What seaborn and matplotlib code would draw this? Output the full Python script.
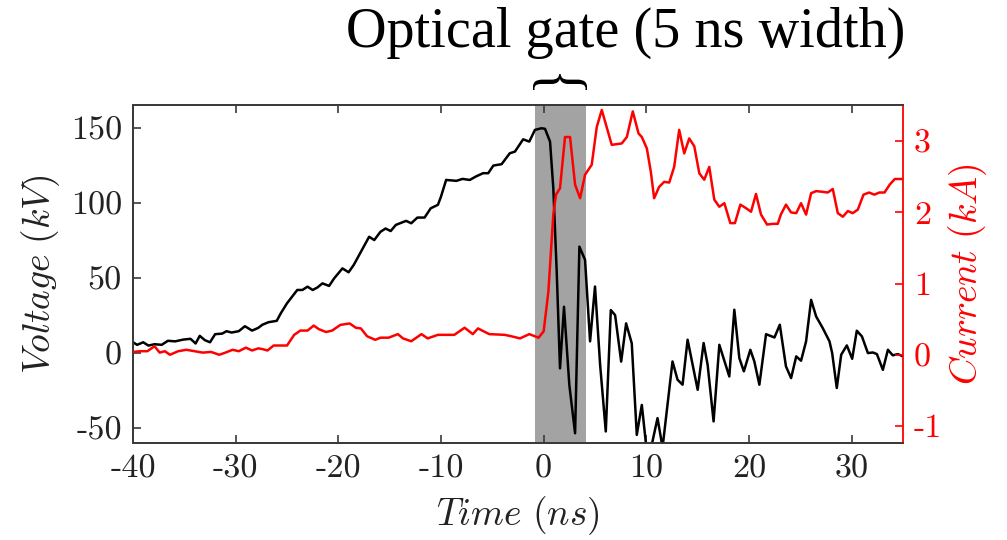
import numpy as np
import pandas as pd
import seaborn as sns
import matplotlib
matplotlib.use("Agg")
import matplotlib.pyplot as plt
import matplotlib.transforms as mtransforms
from matplotlib.textpath import TextPath
from matplotlib.patches import PathPatch
from matplotlib.font_manager import FontProperties

# ---- voltage trace (kV) ----
t_voltage = [-40.0, -39.6, -39.0, -38.5, -37.9, -37.2, -36.6, -35.9, -35.1, -34.4,
             -33.9, -33.5, -33.0, -32.5, -32.0, -31.3, -30.9, -30.4, -29.7, -29.1,
             -28.4, -27.8, -27.4, -26.8, -26.0, -25.6, -25.0, -24.0, -23.5, -23.0,
             -22.5, -22.05, -21.55, -20.9, -20.4, -19.6, -19.0, -18.5, -17.8, -17.0,
             -16.5, -15.9, -15.4, -14.9, -14.4, -13.4, -12.9, -12.3, -11.6, -11.0,
             -10.3, -10.0, -9.5, -8.5, -7.9, -7.2, -6.6, -5.9, -5.4, -4.9,
             -4.1, -3.3, -2.8, -2.0, -1.4, -0.85, -0.2, 0.13, 0.62, 0.94,
             1.27, 1.59, 1.98, 2.5, 3.06, 3.48, 4.03, 4.52, 5.0, 5.5,
             6.05, 6.54, 6.96, 7.55, 8.03, 8.58, 9.07, 9.56, 10.05, 10.44,
             11.09, 11.58, 12.55, 13.04, 13.53, 14.02, 15.0, 15.58, 15.97, 16.55,
             17.11, 18.08, 18.57, 19.06, 19.5, 20.13, 20.52, 21.01, 21.66, 22.48,
             23.0, 23.6, 24.1, 24.6, 25.07, 25.56, 26.05, 26.54, 27.18, 27.84,
             28.1, 28.55, 28.98, 29.53, 30.05, 30.5, 31.0, 31.58, 32.07, 32.46,
             33.04, 33.53, 34.0, 34.5, 35.0]
voltage_kv = [7.2, 5.5, 7.2, 5.0, 5.9, 5.5, 8.2, 7.8, 9.0, 9.5,
              6.4, 11.5, 8.6, 7.2, 12.6, 13.0, 14.6, 13.7, 14.6, 17.9,
              15.0, 16.8, 18.9, 20.6, 21.5, 26.6, 33.2, 42.1, 42.1, 44.3,
              42.1, 43.7, 46.5, 44.8, 49.9, 56.5, 53.9, 58.8, 67.6, 77.6,
              75.4, 80.9, 83.1, 81.4, 85.5, 88.2, 86.6, 90.4, 90.4, 96.6,
              98.9, 104.4, 115.5, 114.9, 116.2, 115.5, 117.8, 120.0, 120.0, 125.1,
              126.0, 133.3, 134.4, 142.6, 141.1, 148.9, 150.0, 149.6, 141.1, 110.0,
              54.4, -10.2, 30.9, -21.3, -53.5, 71.0, 62.2, 7.8, 44.4, -7.9,
              -52.3, 28.7, 25.3, -5.7, 19.8, 6.5, -54.6, -34.6, -66.0, -64.0,
              -43.4, -63.0, -5.6, -17.8, -21.1, 8.9, -24.5, 6.7, -7.8, -45.6,
              5.5, -15.6, 28.9, -3.4, -12.2, 2.2, -5.6, -21.1, 12.6, 10.4,
              18.9, -8.9, -16.7, -2.2, -5.1, 7.8, 35.5, 24.4, 16.7, 7.8,
              0.0, -23.3, -1.1, 5.1, -3.8, 14.9, 11.1, 0.0, 0.4, -0.7,
              -11.2, 2.2, -1.5, -0.7, -2.2]

# ---- current trace (kA) ----
t_current = [-40.0, -39.3, -38.6, -37.9, -37.4, -36.9, -36.4, -35.6, -34.8, -34.0,
             -33.2, -32.4, -31.6, -31.0, -30.3, -29.7, -29.0, -28.4, -27.8, -27.4,
             -26.9, -26.3, -25.6, -25.0, -24.3, -23.7, -23.0, -22.4, -21.9, -21.2,
             -20.6, -19.8, -18.9, -18.3, -17.8, -17.2, -16.4, -15.9, -15.1, -14.2,
             -13.7, -12.9, -11.9, -11.3, -10.3, -8.7, -7.7, -6.9, -6.4, -5.3,
             -3.8, -3.15, -2.3, -1.4, -0.5, 0.0, 0.46, 0.94, 1.2, 1.59,
             2.08, 2.57, 3.06, 3.55, 4.03, 4.68, 5.17, 5.66, 6.63, 7.61,
             8.1, 8.68, 9.24, 9.56, 10.05, 10.44, 10.76, 11.25, 11.74, 12.23,
             12.71, 13.2, 13.69, 14.18, 14.67, 15.16, 15.64, 16.13, 16.62, 17.11,
             17.6, 18.18, 18.63, 19.16, 19.71, 20.2, 20.68, 21.17, 21.76, 22.31,
             22.8, 23.1, 23.6, 24.1, 24.6, 25.07, 25.56, 26.05, 26.54, 27.18,
             27.67, 28.16, 28.65, 29.14, 29.63, 30.1, 30.6, 31.15, 31.7, 32.2,
             32.7, 33.2, 33.7, 34.2, 35.0]
current_ka = [0.04, 0.05, 0.05, 0.12, 0.03, 0.05, 0.0, 0.05, 0.07, 0.05,
              0.03, 0.04, 0.0, 0.03, 0.07, 0.05, 0.10, 0.06, 0.09, 0.08,
              0.06, 0.13, 0.13, 0.13, 0.28, 0.34, 0.34, 0.41, 0.36, 0.32,
              0.34, 0.42, 0.44, 0.38, 0.37, 0.26, 0.21, 0.24, 0.24, 0.29,
              0.23, 0.19, 0.29, 0.23, 0.28, 0.28, 0.38, 0.29, 0.37, 0.29,
              0.28, 0.26, 0.23, 0.29, 0.24, 0.33, 0.89, 1.97, 2.25, 2.34,
              3.06, 3.06, 2.39, 2.20, 2.53, 2.67, 3.20, 3.44, 2.95, 2.97,
              3.06, 3.42, 3.11, 3.06, 2.90, 2.57, 2.20, 2.36, 2.43, 2.42,
              2.64, 3.16, 2.83, 3.04, 2.93, 2.55, 2.46, 2.64, 2.18, 2.08,
              2.13, 1.85, 1.85, 2.11, 2.06, 2.01, 2.26, 1.97, 1.83, 1.84,
              1.84, 1.97, 2.11, 2.00, 1.99, 2.13, 1.97, 2.27, 2.30, 2.29,
              2.28, 2.33, 1.99, 1.94, 2.02, 1.99, 2.04, 2.25, 2.28, 2.25,
              2.28, 2.28, 2.39, 2.47, 2.47]

# optical gate window (ns)
gate_start, gate_end = -0.85, 4.15

x_ticks = [-40, -30, -20, -10, 0, 10, 20, 30]
v_ticks = [-50, 0, 50, 100, 150]
i_ticks = [-1, 0, 1, 2, 3]

voltage_df = pd.DataFrame({"time": t_voltage, "voltage": voltage_kv})
current_df = pd.DataFrame({"time": t_current, "current": current_ka})

sns.set_theme(style="ticks")
plt.rcParams["mathtext.fontset"] = "cm"
plt.rcParams["axes.unicode_minus"] = False

W, H = 1007, 540
fig = plt.figure(figsize=(W / 100, H / 100), dpi=100)
ax = fig.add_axes([133 / W, 1 - 443 / H, (903 - 133) / W, (443 - 105) / H])
ax2 = ax.twinx()

box_color = "#3a3a3a"
tick_font = dict(family="cmr10", size=24.5)

ax.axvspan(gate_start, gate_end, color="#a3a3a3", lw=0, zorder=0)
sns.lineplot(data=voltage_df, x="time", y="voltage", ax=ax, color="black",
             lw=1.8, estimator=None, sort=False, zorder=3)
sns.lineplot(data=current_df, x="time", y="current", ax=ax2, color="#ff0000",
             lw=1.8, estimator=None, sort=False, zorder=3)

ax.set_xlim(-40, 35)
ax.set_ylim(-60, 165.5)
ax2.set_ylim(-1.24, 3.51)

ax.set_xticks(x_ticks)
ax.set_yticks(v_ticks)
ax2.set_yticks(i_ticks)
ax.set_xticklabels([str(v) for v in x_ticks], fontdict=tick_font)
ax.set_yticklabels([str(v) for v in v_ticks], fontdict=tick_font)
ax2.set_yticklabels([str(v) for v in i_ticks], fontdict=tick_font, color="#ff0000")

ax.tick_params(axis="both", direction="in", length=6, width=1.2, colors=box_color,
               labelcolor="#222222", top=True, right=False, pad=8)
ax2.tick_params(axis="y", direction="in", length=6, width=1.2, colors="#ff0000",
                labelcolor="#ff0000", pad=8)

for side in ["left", "top", "bottom"]:
    ax.spines[side].set_color(box_color)
    ax.spines[side].set_linewidth(1.3)
    ax2.spines[side].set_color(box_color)
    ax2.spines[side].set_linewidth(1.3)
ax2.spines["right"].set_color("#ff0000")
ax2.spines["right"].set_linewidth(1.3)
ax.spines["right"].set_visible(False)

ax.set_xlabel(r"$Time\ (ns)$", fontsize=27, color="#222222", labelpad=8)
ax.set_ylabel(r"$Voltage\ (kV)$", fontsize=27, color="#222222", labelpad=6)
ax2.set_ylabel(r"$Current\ (kA)$", fontsize=27, color="#ff0000", labelpad=3)

# heading above the plot
fig.text(626 / W, 1 - 33 / H, "Optical gate (5 ns width)", fontsize=40.5,
         family="Liberation Serif", ha="center", va="center", color="black")

# horizontal curly brace over the gate window
brace = TextPath((0, 0), "}", size=1, prop=FontProperties(family="Liberation Serif"))
bb = brace.get_extents()
bw, bh = 54.0, 16.0
cx, cy = 560.0, H - 82.0
brace_tf = (mtransforms.Affine2D()
            .translate(-(bb.x0 + bb.x1) / 2, -(bb.y0 + bb.y1) / 2)
            .rotate_deg(90)
            .scale(bw / bb.height, bh / bb.width)
            .translate(cx, cy)
            .scale(1 / W, 1 / H)) + fig.transFigure
fig.patches.append(PathPatch(brace, transform=brace_tf, facecolor="black",
                             edgecolor="none"))

fig.savefig("out.png", dpi=100, facecolor="white")
